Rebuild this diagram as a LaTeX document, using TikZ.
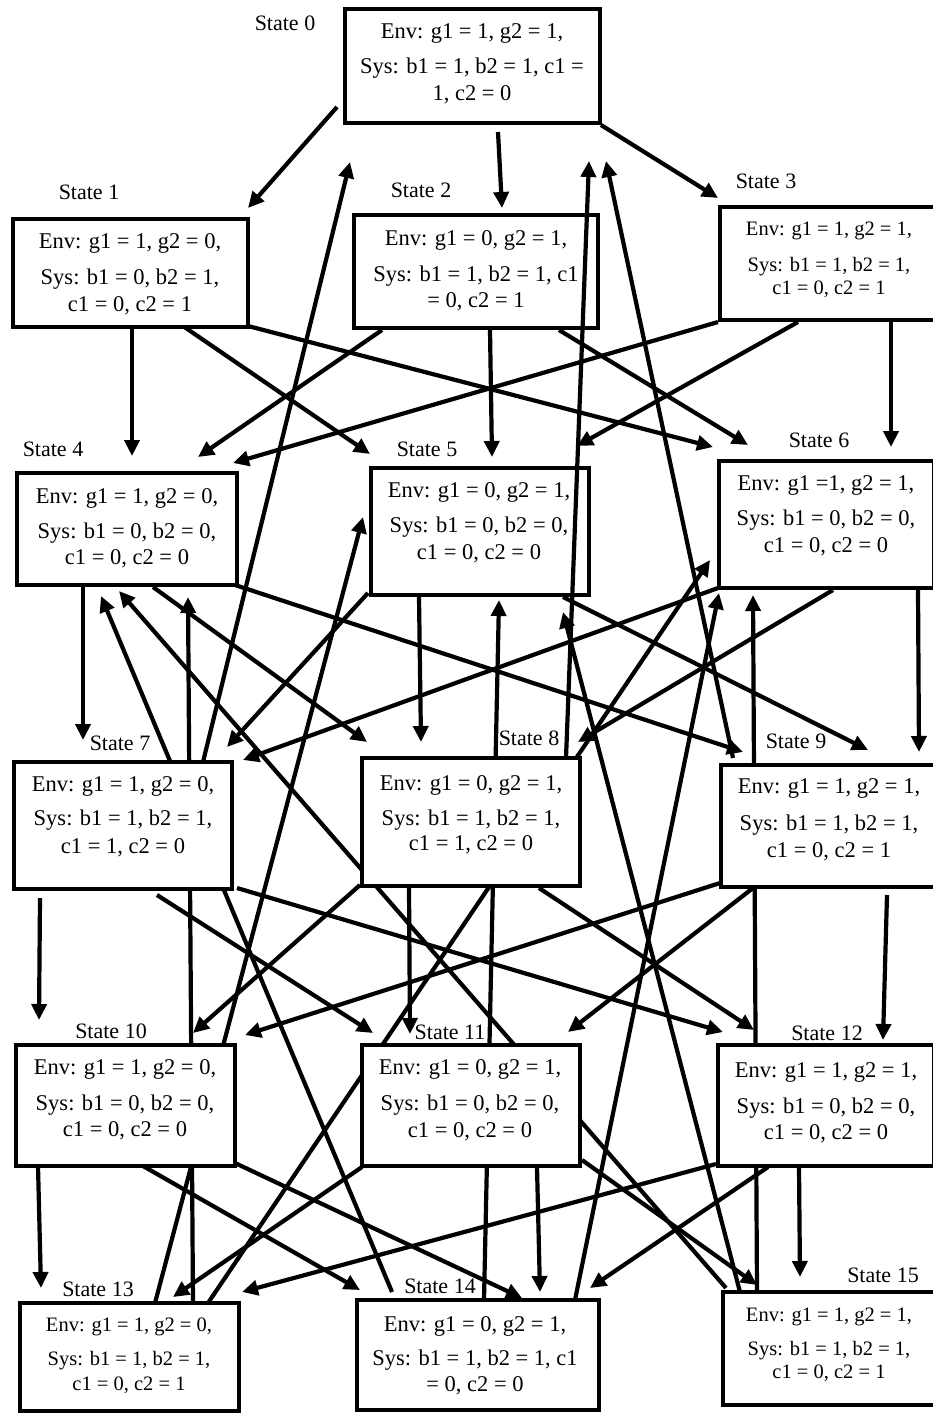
\documentclass[tikz,border=0pt]{standalone}
\usepackage{fontspec}
\setmainfont{Liberation Serif}
\usetikzlibrary{arrows.meta}
\newcommand{\stxt}[9]{%
  \node[#2] (#1a) at (#3,#4) {#7};
  \node[#2] (#1b) at (#3,#5) {#8};
  \node[#2] (#1c) at (#3,#6) {#9};}
\begin{document}
\begin{tikzpicture}[x=1pt,y=-1pt,
  stbox/.style={draw=black, line width=4.5pt, fill=white, inner sep=0pt, outer sep=0pt},
  arr/.style={line width=4.2pt, -{Triangle[length=16pt,width=15pt]}},
  tx/.style={inner sep=0pt, font=\fontsize{22.5}{26}\selectfont, text height=15pt, text depth=4.5pt},
  txs/.style={inner sep=0pt, font=\fontsize{20.5}{24}\selectfont, text height=14pt, text depth=4pt},
  lbl/.style={inner sep=0pt, font=\fontsize{22}{26}\selectfont, text height=15pt, text depth=4.5pt}]
\useasboundingbox (0,0) rectangle (932,1414);
\fill[white] (0,0) rectangle (932,1414);

% connectors that run behind the boxes, and the other ones
\foreach \n/\xa/\ya/\xb/\yb in {
 e13to4/193/1303/188/597, e14to4/392/1292/101/596, e15to4/726/1288/119/591,
 e13to5/155/1303/363/517, e14to5/484/1300/499/600, e13to6/208/1303/710/560,
 e15to6/757/1292/753/595, e14to6/575/1300/719/593, e15to5/740/1292/563/612,
 e0to1/337/107/248/208, e0to2/498/132/502/208, e0to3/601/125/718/198,
 e7to0/203/762/350/162, e9to0/733/758/606/161,
 e1to4/132/328/132/456, e1to5/180/324/370/454, e1to6/248/326/713/447,
 e2to4/382/330/198/457, e2to5/490/330/492/457, e2to6/559/330/748/445,
 e3to4/718/322/233/463, e3to5/798/322/577/446, e3to6/891/322/891/447,
 e4to7/83/587/83/740, e4to8/153/587/367/742, e4to9/235/585/743/752,
 e5to7/368/593/227/747, e5to8/419/597/421/742, e5to9/563/597/868/750,
 e6to7/718/588/243/760, e6to8/833/590/578/742, e6to9/918/590/919/752,
 e7to10/40/898/39/1020, e7to11/157/895/373/1033, e7to12/237/888/723/1032,
 e8to10/360/885/193/1033, e8to11/409/888/410/1034, e8to12/539/888/754/1030,
 e9to10/720/883/245/1035, e9to11/753/888/568/1032, e9to12/887/895/883/1040,
 e10to13/38/1166/41/1288, e10to14/143/1166/360/1290, e10to14b/235/1163/522/1298,
 e11to13/362/1167/173/1297, e11to14/537/1167/540/1292, e11to15/582/1160/757/1285,
 e12to13/716/1164/242/1292, e12to14/768/1167/590/1288, e12to15/799/1167/800/1277}
{\coordinate (\n a) at (\xa,\ya); \coordinate (\n b) at (\xb,\yb);
 \draw[arr] (\n a) -- (\n b);}

% state boxes
\node[stbox, minimum width=255pt, minimum height=114pt] (s0) at (472.5,66) {};
\node[stbox, minimum width=235pt, minimum height=108pt] (s1) at (130.5,273) {};
\node[stbox, minimum width=244pt, minimum height=113pt] (s2) at (476,271.5) {};
\node[stbox, minimum width=218pt, minimum height=113pt] (s3) at (829,263.5) {};
\node[stbox, minimum width=220pt, minimum height=112pt] (s4) at (127,529) {};
\node[stbox, minimum width=218pt, minimum height=127pt] (s5) at (480,531.5) {};
\node[stbox, minimum width=215pt, minimum height=127pt] (s6) at (826.5,524.5) {};
\node[stbox, minimum width=218pt, minimum height=127pt] (s7) at (123,825.5) {};
\node[stbox, minimum width=218pt, minimum height=128pt] (s8) at (471,822) {};
\node[stbox, minimum width=216pt, minimum height=122pt] (s9) at (829,826) {};
\node[stbox, minimum width=219pt, minimum height=121pt] (s10) at (125.5,1105.5) {};
\node[stbox, minimum width=218pt, minimum height=121pt] (s11) at (471,1105.5) {};
\node[stbox, minimum width=216pt, minimum height=121pt] (s12) at (826,1105.5) {};
\node[stbox, minimum width=219pt, minimum height=108pt] (s13) at (129.5,1357) {};
\node[stbox, minimum width=242pt, minimum height=110pt] (s14) at (478,1355) {};
\node[stbox, minimum width=212pt, minimum height=113pt] (s15) at (829,1348.5) {};

% connector drawn over boxes 2 and 5
\coordinate (e8to0a) at (566,758); \coordinate (e8to0b) at (589,161);
\draw[arr] (e8to0a) -- (e8to0b);

% box texts
\stxt{t0}{tx}{472}{33}{68}{95}{Env: g1 = 1, g2 = 1,}{Sys: b1 = 1, b2 = 1, c1 =}{1, c2 = 0}
\stxt{t1}{tx}{130}{243}{279}{306}{Env: g1 = 1, g2 = 0,}{Sys: b1 = 0, b2 = 1,}{c1 = 0, c2 = 1}
\stxt{t2}{tx}{476}{240}{276}{302}{Env: g1 = 0, g2 = 1,}{Sys: b1 = 1, b2 = 1, c1}{= 0, c2 = 1}
\stxt{t3}{txs}{829}{230}{266}{289}{Env: g1 = 1, g2 = 1,}{Sys: b1 = 1, b2 = 1,}{c1 = 0, c2 = 1}
\stxt{t4}{tx}{127}{498}{533}{559}{Env: g1 = 1, g2 = 0,}{Sys: b1 = 0, b2 = 0,}{c1 = 0, c2 = 0}
\stxt{t5}{tx}{479}{492}{527}{554}{Env: g1 = 0, g2 = 1,}{Sys: b1 = 0, b2 = 0,}{c1 = 0, c2 = 0}
\stxt{t6}{tx}{826}{485}{520}{547}{Env: g1 =1, g2 = 1,}{Sys: b1 = 0, b2 = 0,}{c1 = 0, c2 = 0}
\stxt{t7}{tx}{123}{786}{820}{848}{Env: g1 = 1, g2 = 0,}{Sys: b1 = 1, b2 = 1,}{c1 = 1, c2 = 0}
\stxt{t8}{tx}{471}{785}{820}{845}{Env: g1 = 0, g2 = 1,}{Sys: b1 = 1, b2 = 1,}{c1 = 1, c2 = 0}
\stxt{t9}{tx}{829}{788}{825}{852}{Env: g1 = 1, g2 = 1,}{Sys: b1 = 1, b2 = 1,}{c1 = 0, c2 = 1}
\stxt{t10}{tx}{125}{1069}{1105}{1131}{Env: g1 = 1, g2 = 0,}{Sys: b1 = 0, b2 = 0,}{c1 = 0, c2 = 0}
\stxt{t11}{tx}{470}{1069}{1105}{1132}{Env: g1 = 0, g2 = 1,}{Sys: b1 = 0, b2 = 0,}{c1 = 0, c2 = 0}
\stxt{t12}{tx}{826}{1072}{1108}{1134}{Env: g1 = 1, g2 = 1,}{Sys: b1 = 0, b2 = 0,}{c1 = 0, c2 = 0}
\stxt{t13}{txs}{129}{1326}{1360}{1385}{Env: g1 = 1, g2 = 0,}{Sys: b1 = 1, b2 = 1,}{c1 = 0, c2 = 1}
\stxt{t14}{tx}{475}{1326}{1360}{1386}{Env: g1 = 0, g2 = 1,}{Sys: b1 = 1, b2 = 1, c1}{= 0, c2 = 0}
\stxt{t15}{txs}{829}{1316}{1350}{1373}{Env: g1 = 1, g2 = 1,}{Sys: b1 = 1, b2 = 1,}{c1 = 0, c2 = 1}

% state labels
\node[lbl] (l0) at (285,25) {State 0};
\node[lbl] (l1) at (89,194) {State 1};
\node[lbl] (l2) at (421,192) {State 2};
\node[lbl] (l3) at (766,183) {State 3};
\node[lbl] (l4) at (53,451) {State 4};
\node[lbl] (l5) at (427,451) {State 5};
\node[lbl] (l6) at (819,442) {State 6};
\node[lbl] (l7) at (120,745) {State 7};
\node[lbl] (l8) at (529,740) {State 8};
\node[lbl] (l9) at (796,743) {State 9};
\node[lbl] (l10) at (111,1033) {State 10};
\node[lbl] (l11) at (450,1034) {State 11};
\node[lbl] (l12) at (827,1035) {State 12};
\node[lbl] (l13) at (98,1291) {State 13};
\node[lbl] (l14) at (440,1288) {State 14};
\node[lbl] (l15) at (883,1277) {State 15};
\end{tikzpicture}
\end{document}
